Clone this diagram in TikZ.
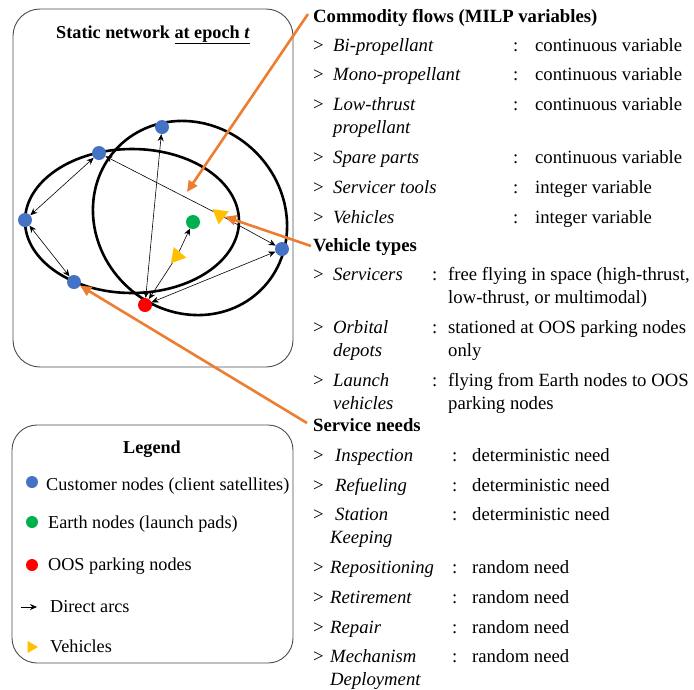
\documentclass[tikz,border=0pt]{standalone}
\usepackage{fontspec}
\setmainfont{Liberation Serif}
\usetikzlibrary{arrows.meta}
\usetikzlibrary{shapes.geometric}

\definecolor{custblue}{HTML}{4472C4}
\definecolor{earthgreen}{HTML}{00B050}
\definecolor{oosred}{HTML}{FF0000}
\definecolor{vehyellow}{HTML}{FFC000}
\definecolor{callorange}{HTML}{ED7D31}

\newcommand{\gtmark}[1][20pt]{\makebox[#1][l]{>}}
\newcommand{\colmark}[1][22pt]{\makebox[#1][l]{:}}

\tikzset{
    panel/.style={
        draw=black!70,
        rounded corners=27pt,
        line width=0.9pt
    },
    orbit/.style={
        draw=black,
        line width=2.6pt
    },
    arc/.style={
        <->,
        >={Stealth[length=7pt,width=6pt]},
        line width=0.6pt,
        draw=black
    },
    callout/.style={
        ->,
        >={Triangle[length=11pt,width=10pt]},
        line width=2.6pt,
        draw=callorange
    }
}
\tikzset{netnode/.style={circle,inner sep=0pt,minimum size=14pt}}
\tikzset{customer/.style={netnode,fill=custblue}}
\tikzset{earth/.style={netnode,fill=earthgreen}}
\tikzset{parking/.style={netnode,fill=oosred}}
\tikzset{vehicle/.style={regular polygon,regular polygon sides=3,fill=vehyellow,inner sep=0pt,minimum size=19pt}}
\tikzset{listhead/.style={anchor=base west,inner sep=0pt,font=\fontsize{18.7}{23}\selectfont\bfseries}}
\tikzset{entry/.style={anchor=base west,inner sep=0pt,font=\fontsize{18.7}{23}\selectfont}}
\tikzset{legtext/.style={anchor=base west,inner sep=0pt,font=\fontsize{18.2}{22}\selectfont}}

\begin{document}
\begin{tikzpicture}[x=1pt, y=-1pt]
        \useasboundingbox (0,0) rectangle (694,689);

        % Network panel
        \node (netbox) [panel, minimum width=280pt, minimum height=358pt] at (153,188) {};
        \node (nettitle) [anchor=base, inner sep=0pt, font=\fontsize{18.2}{22}\selectfont\bfseries] at (153,38) {Static network \underline{at epoch \textit{t}}};

        % Orbits
        \draw [orbit] (132,221) ellipse [x radius=107, y radius=72];
        \draw [orbit, rotate around={-45:(190,218)}] (190,218) ellipse [x radius=101, y radius=93];

        % Customer nodes
        \node (n1) [customer] at (162,127) {};
        \node (n2) [customer] at (99,153) {};
        \node (n3) [customer] at (25,220) {};
        \node (n4) [customer] at (74,282) {};
        \node (n5) [customer] at (282,249) {};

        % Earth and parking nodes
        \node (earth) [earth] at (193,222) {};
        \node (park) [parking] at (145,305) {};

        % Vehicles
        \node (veh1) [vehicle, rotate=172] at (220,215) {};
        \node (veh2) [vehicle, rotate=-100] at (177,256) {};

        % Direct arcs
        \draw [arc] (n2) -- (n3);
        \draw [arc] (n3) -- (n4);
        \draw [arc, <-] (n2) -- (veh1);
        \draw [arc, ->] (veh1) -- (n5);
        \draw [arc] (park) -- (n1);
        \draw [arc, <-] (park) -- (veh2);
        \draw [arc, ->] (veh2) -- (earth);
        \draw [arc] (park) -- (n5);

        % Legend panel
        \node (legbox) [panel, rounded corners=25pt, minimum width=281pt, minimum height=238pt] at (152.5,544) {};
        \node (legtitle) [anchor=base, inner sep=0pt, font=\fontsize{18.2}{22}\selectfont\bfseries] at (152,453) {Legend};
        \node (legcust) [customer, minimum size=12pt] at (32,482) {};
        \node (legcusttext) [legtext] at (46,490) {Customer nodes (client satellites)};
        \node (legearth) [earth, minimum size=12pt] at (32,522) {};
        \node (legearthtext) [legtext] at (48,528) {Earth nodes (launch pads)};
        \node (legpark) [parking, minimum size=12pt] at (32,565) {};
        \node (legparktext) [legtext] at (48,570) {OOS parking nodes};
        \coordinate (legarcstart) at (21,607);
        \coordinate (legarcend) at (37,607);
        \draw [arc, ->] (legarcstart) -- (legarcend);
        \node (legarctext) [legtext] at (50,612) {Direct arcs};
        \node (legveh) [vehicle, rotate=-90, minimum size=14pt] at (31,647) {};
        \node (legvehtext) [legtext] at (50,652) {Vehicles};

        % Commodity flows
        \node (flows) [listhead] at (313,22) {Commodity flows (MILP variables)};
        \node (bipro) [entry] at (313,51) {\gtmark\textit{Bi-propellant}};
        \node (biproval) [entry] at (513,51) {\colmark continuous variable};
        \node (monopro) [entry] at (313,80) {\gtmark\textit{Mono-propellant}};
        \node (monoproval) [entry] at (513,80) {\colmark continuous variable};
        \node (lowpro) [entry] at (313,110) {\gtmark\textit{Low-thrust}};
        \node (lowpro2) [entry] at (333,133) {\textit{propellant}};
        \node (lowproval) [entry] at (513,110) {\colmark continuous variable};
        \node (spare) [entry] at (313,163) {\gtmark\textit{Spare parts}};
        \node (spareval) [entry] at (513,163) {\colmark continuous variable};
        \node (tools) [entry] at (313,193) {\gtmark\textit{Servicer tools}};
        \node (toolsval) [entry] at (513,193) {\colmark integer variable};
        \node (vehflow) [entry] at (313,223) {\gtmark\textit{Vehicles}};
        \node (vehflowval) [entry] at (513,223) {\colmark integer variable};

        % Vehicle types
        \node (types) [listhead] at (313,251) {Vehicle types};
        \node (serv) [entry] at (313,280) {\gtmark\textit{Servicers}};
        \node (servval) [entry] at (432,280) {\colmark[16pt]free flying in space (high-thrust,};
        \node (servval2) [entry] at (448,303.5) {low-thrust, or multimodal)};
        \node (depot) [entry] at (313,333) {\gtmark\textit{Orbital}};
        \node (depot2) [entry] at (333,356.5) {\textit{depots}};
        \node (depotval) [entry] at (432,333) {\colmark[16pt]stationed at OOS parking nodes};
        \node (depotval2) [entry] at (448,356.5) {only};
        \node (launch) [entry] at (313,386) {\gtmark\textit{Launch}};
        \node (launch2) [entry] at (333,409.5) {\textit{vehicles}};
        \node (launchval) [entry] at (432,386) {\colmark[16pt]flying from Earth nodes to OOS};
        \node (launchval2) [entry] at (448,409.5) {parking nodes};

        % Service needs
        \node (needs) [listhead] at (313,431) {Service needs};
        \node (insp) [entry] at (313,461) {\gtmark[22pt]\textit{Inspection}};
        \node (inspval) [entry] at (452,461) {\colmark[20pt]deterministic need};
        \node (refuel) [entry] at (313,491) {\gtmark[22pt]\textit{Refueling}};
        \node (refuelval) [entry] at (452,491) {\colmark[20pt]deterministic need};
        \node (keep) [entry] at (313,520) {\gtmark[22pt]\textit{Station}};
        \node (keep2) [entry] at (330,543.5) {\textit{Keeping}};
        \node (keepval) [entry] at (452,520) {\colmark[20pt]deterministic need};
        \node (repos) [entry] at (313,573) {\gtmark[17pt]\textit{Repositioning}};
        \node (reposval) [entry] at (452,573) {\colmark[20pt]random need};
        \node (retire) [entry] at (313,603) {\gtmark[17pt]\textit{Retirement}};
        \node (retireval) [entry] at (452,603) {\colmark[20pt]random need};
        \node (repair) [entry] at (313,633) {\gtmark[17pt]\textit{Repair}};
        \node (repairval) [entry] at (452,633) {\colmark[20pt]random need};
        \node (mech) [entry] at (313,662) {\gtmark[17pt]\textit{Mechanism}};
        \node (mech2) [entry] at (330,685) {\textit{Deployment}};
        \node (mechval) [entry] at (452,662) {\colmark[20pt]random need};

        % Callouts
        \coordinate (flowstart) at (308,14);
        \coordinate (flowtip) at (187,192);
        \coordinate (typestart) at (311,246);
        \coordinate (needstart) at (307,423);
        \draw [callout] (flowstart) -- (flowtip);
        \draw [callout] (typestart) -- (veh1);
        \draw [callout] (needstart) -- (n4);

    \end{tikzpicture}
\end{document}
